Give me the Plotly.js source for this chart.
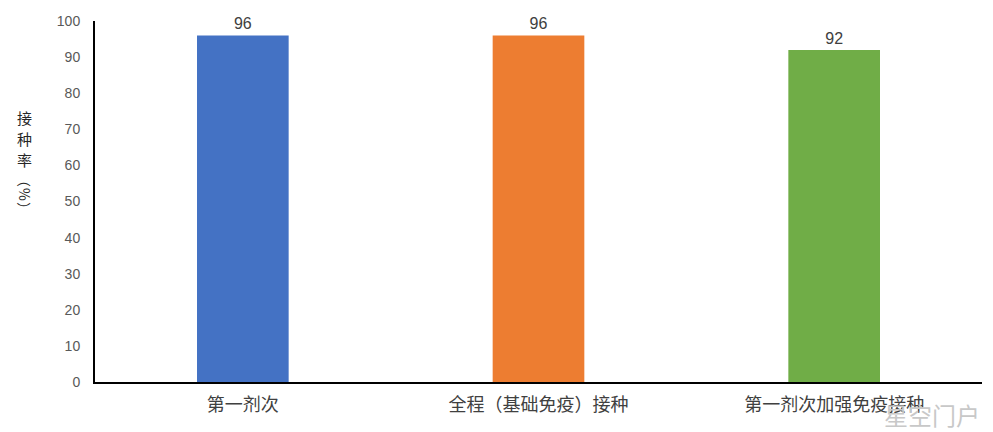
<!DOCTYPE html>
<html>
<head>
<meta charset="utf-8">
<script src="https://cdn.plot.ly/plotly-3.0.1.min.js"></script>
<style>
  html, body { margin: 0; padding: 0; background: #fff; }
  #chart { width: 993px; height: 432px; }
</style>
</head>
<body>
<div id="chart"></div>
<script>
// 接种率数据
const categories = ['第一剂次', '全程（基础免疫）接种', '第一剂次加强免疫接种'];
const rates = [96, 96, 92];
const barColors = ['#4472c4', '#ed7d31', '#70ad47'];
const yTicks = [0, 10, 20, 30, 40, 50, 60, 70, 80, 90, 100];
const yTitleChars = ['接', '种', '率', '（', '%', '）'];

const FONT = '"Noto Sans CJK SC", "Microsoft YaHei", sans-serif';
const NUM_FONT = '"Liberation Sans", Arial, sans-serif';

const trace = {
    x: categories,
    y: rates,
    type: 'bar',
    width: 0.31,
    marker: { color: barColors },
    text: rates.map(v => String(v)),
    textposition: 'outside',
    cliponaxis: false,
    textfont: { family: NUM_FONT, size: 16, color: '#404040' },
    hoverinfo: 'x+y',
};

// 纵向排列的坐标轴标题，每个字单独一个注释；括号和百分号转 90 度
const titleY = [117, 138, 159, 180, 195, 209];
const titleAnnotations = yTitleChars.map((ch, i) => ({
    text: ch,
    xref: 'paper', yref: 'paper',
    x: -0.079,
    y: 1 - (titleY[i] - 21) / 361,
    xanchor: 'center', yanchor: 'middle',
    showarrow: false,
    textangle: i >= 3 ? 90 : 0,
    font: { family: FONT, size: i >= 3 ? 14 : 15, color: '#262626' },
}));

const layout = {
    width: 993,
    height: 432,
    paper_bgcolor: '#fff',
    plot_bgcolor: '#fff',
    font: { family: FONT, color: '#595959', size: 14 },
    margin: { l: 95, r: 11, t: 21, b: 50 },
    showlegend: false,
    xaxis: {
        type: 'category',
        showline: true,
        linecolor: '#000',
        linewidth: 2,
        ticks: '',
        ticklabelstandoff: 5,
        tickfont: { family: FONT, size: 18, color: '#404040' },
        showgrid: false,
        zeroline: false,
    },
    yaxis: {
        range: [0, 100],
        tickvals: yTicks,
        ticktext: yTicks.map(String),
        showline: true,
        linecolor: '#000',
        linewidth: 2,
        ticks: '',
        ticklabelstandoff: 10,
        tickfont: { family: NUM_FONT, size: 14, color: '#595959' },
        showgrid: false,
        zeroline: false,
    },
    annotations: titleAnnotations.concat([
        {
            // 水印，与原图一样略压在第三个类别标签上
            text: '星空门户',
            xref: 'paper', yref: 'paper',
            x: 1.0, y: -0.035,
            xanchor: 'right', yanchor: 'top',
            showarrow: false,
            font: { family: FONT, size: 24, color: '#c8c8c8' },
        },
    ]),
};

Plotly.newPlot('chart', [trace], layout, { displayModeBar: false, responsive: false });
</script>
</body>
</html>
